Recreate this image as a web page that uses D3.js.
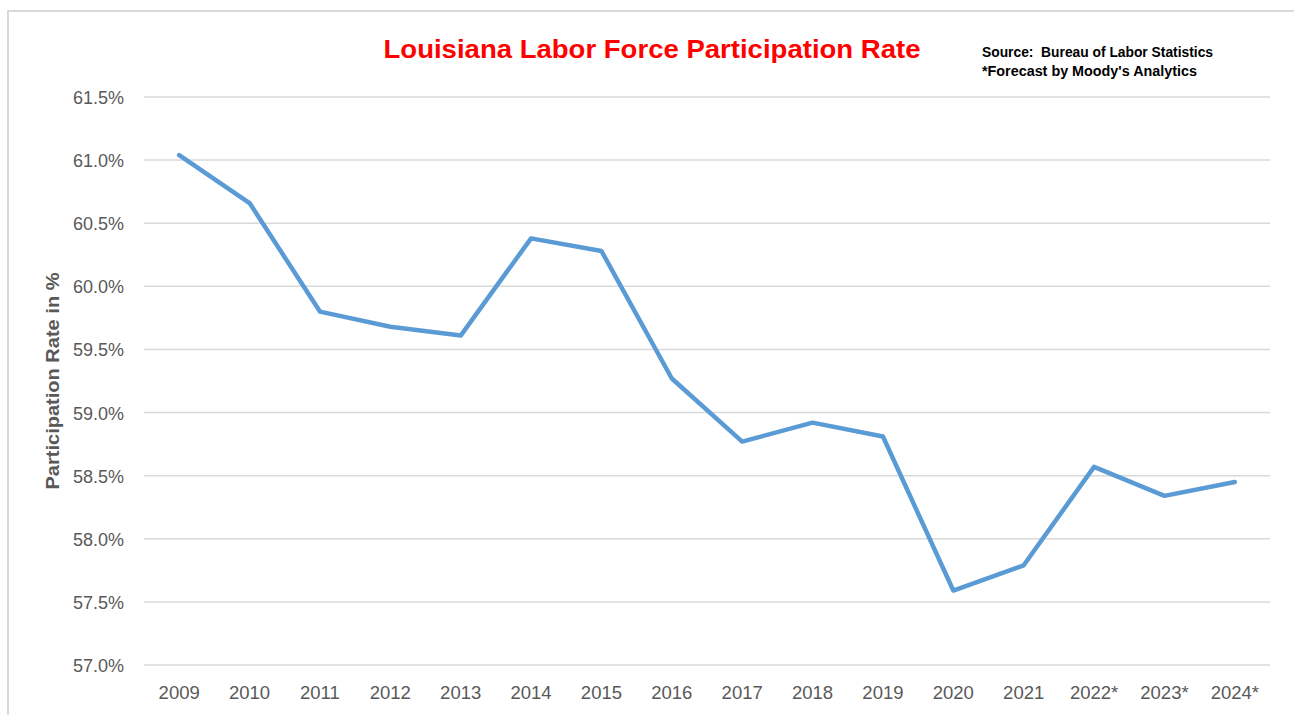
<!DOCTYPE html>
<html><head><meta charset="utf-8">
<script src="https://cdn.jsdelivr.net/npm/d3@7"></script>
<style>body{margin:0;background:#fff}svg{display:block}</style>
</head><body>
<svg id="c" width="1294" height="715"></svg>
<script>
const years = ["2009","2010","2011","2012","2013","2014","2015","2016","2017","2018","2019","2020","2021","2022*","2023*","2024*"];
const rates = [61.04,60.66,59.80,59.68,59.61,60.38,60.28,59.27,58.77,58.92,58.81,57.59,57.79,58.57,58.34,58.45];
const yTicks = [57.0,57.5,58.0,58.5,59.0,59.5,60.0,60.5,61.0,61.5];

const svg = d3.select("#c");
const font = "'Liberation Sans', Arial, sans-serif";
svg.append("rect").attr("x",8).attr("y",11).attr("width",1300).attr("height",720)
  .attr("fill","#fff").attr("stroke","#d9d9d9").attr("stroke-width",2);

const x = d3.scaleBand().domain(years).range([144,1270]).padding(0);
const y = d3.scaleLinear().domain([57,61.5]).range([665,97]);

const grid = svg.append("g");
grid.selectAll("line").data(yTicks).join("line")
  .attr("x1",144).attr("x2",1270).attr("y1",d=>y(d)).attr("y2",d=>y(d))
  .attr("stroke","#d9d9d9").attr("stroke-width",1.5);

const yAxis = d3.axisLeft(y).tickValues(yTicks).tickSize(0).tickPadding(20).tickFormat(d=>d3.format(".1f")(d)+"%");
const ya = svg.append("g").attr("transform","translate(144,0)").call(yAxis);
ya.select(".domain").remove();
ya.selectAll("text").attr("font-family",font).attr("font-size",18).attr("fill","#595959").attr("dy","0.36em");

const xAxis = d3.axisBottom(x).tickSize(0).tickPadding(0);
const xa = svg.append("g").attr("transform","translate(0,665)").call(xAxis);
xa.select(".domain").remove();
xa.selectAll("text").attr("font-family",font).attr("font-size",18.5).attr("fill","#595959").attr("dy",0).attr("y",34);

const line = d3.line().x((d,i)=>x(years[i])+x.bandwidth()/2).y(d=>y(d));
svg.append("path").datum(rates).attr("d",line).attr("fill","none")
  .attr("stroke","#5B9BD5").attr("stroke-width",4.5).attr("stroke-linejoin","round").attr("stroke-linecap","round");

svg.append("text").attr("x",652).attr("y",58).attr("text-anchor","middle")
  .attr("font-family",font).attr("font-weight","bold").attr("font-size",26).attr("fill","#ff0000")
  .attr("textLength",537).attr("lengthAdjust","spacingAndGlyphs")
  .text("Louisiana Labor Force Participation Rate");

svg.append("text").attr("x",982).attr("y",57).attr("font-family",font).attr("font-weight","bold")
  .attr("font-size",14).attr("fill","#000").attr("textLength",231).attr("lengthAdjust","spacingAndGlyphs")
  .attr("xml:space","preserve").text("Source:  Bureau of Labor Statistics");
svg.append("text").attr("x",982).attr("y",76).attr("font-family",font).attr("font-weight","bold")
  .attr("font-size",14).attr("fill","#000").attr("textLength",215).attr("lengthAdjust","spacingAndGlyphs")
  .text("*Forecast by Moody's Analytics");

svg.append("text").attr("transform","translate(59,381) rotate(-90)").attr("text-anchor","middle")
  .attr("font-family",font).attr("font-weight","bold").attr("font-size",18).attr("fill","#595959")
  .attr("textLength",217).attr("lengthAdjust","spacingAndGlyphs")
  .text("Participation Rate in %");
</script>
</body></html>
